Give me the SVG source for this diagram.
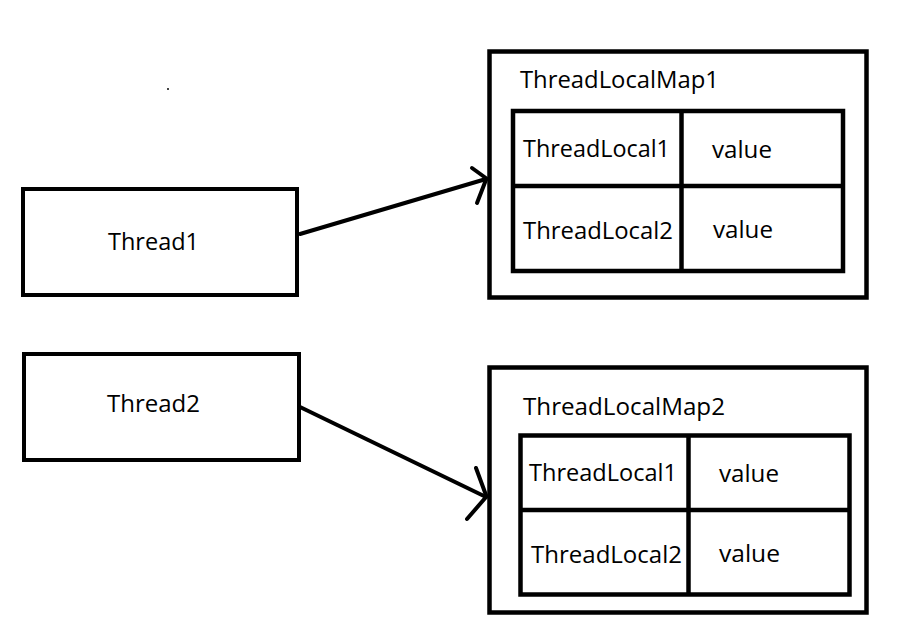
<svg xmlns="http://www.w3.org/2000/svg" width="904" height="640" viewBox="0 0 904 640">
<style>
.box{fill:#fff;stroke:#000;stroke-width:4}
.map{fill:#fff;stroke:#000;stroke-width:4.5}
.grid{fill:none;stroke:#000;stroke-width:4.5}
.t{font-family:"Open Sans","Noto Sans","Liberation Sans",sans-serif;font-size:23px;fill:#000}
.conn{fill:none;stroke:#000;stroke-width:4;stroke-linecap:round;stroke-linejoin:round}
</style>
<rect width="904" height="640" fill="#fff"/>
<rect x="167" y="88" width="2" height="2" fill="#444"/>
<g id="thread1">
<rect class="box" x="23" y="189" width="274" height="106"/>
<text class="t" x="108" y="250" textLength="91" lengthAdjust="spacingAndGlyphs">Thread1</text>
</g>
<g id="thread2">
<rect class="box" x="24" y="354" width="275" height="106"/>
<text class="t" x="107" y="412" textLength="93" lengthAdjust="spacingAndGlyphs">Thread2</text>
</g>
<g id="map1">
<rect class="map" x="489.5" y="51.5" width="377" height="246"/>
<text class="t" x="520" y="88" textLength="199" lengthAdjust="spacingAndGlyphs">ThreadLocalMap1</text>
<rect class="grid" x="513" y="111" width="330" height="160"/>
<line class="grid" x1="681.5" y1="111" x2="681.5" y2="271"/>
<line class="grid" x1="513" y1="186" x2="843" y2="186"/>
<text class="t" x="523" y="157" textLength="147" lengthAdjust="spacingAndGlyphs">ThreadLocal1</text>
<text class="t" x="712" y="158" textLength="60" lengthAdjust="spacingAndGlyphs">value</text>
<text class="t" x="523" y="239" textLength="150" lengthAdjust="spacingAndGlyphs">ThreadLocal2</text>
<text class="t" x="713" y="238" textLength="60" lengthAdjust="spacingAndGlyphs">value</text>
</g>
<g id="map2">
<rect class="map" x="489.5" y="367.5" width="377" height="245"/>
<text class="t" x="523" y="415" textLength="202" lengthAdjust="spacingAndGlyphs">ThreadLocalMap2</text>
<rect class="grid" x="520.5" y="435.5" width="329" height="159"/>
<line class="grid" x1="688.5" y1="435.5" x2="688.5" y2="594.5"/>
<line class="grid" x1="520.5" y1="510" x2="849.5" y2="510"/>
<text class="t" x="529" y="481" textLength="148" lengthAdjust="spacingAndGlyphs">ThreadLocal1</text>
<text class="t" x="719" y="482" textLength="60" lengthAdjust="spacingAndGlyphs">value</text>
<text class="t" x="531" y="563" textLength="151" lengthAdjust="spacingAndGlyphs">ThreadLocal2</text>
<text class="t" x="719" y="562" textLength="61" lengthAdjust="spacingAndGlyphs">value</text>
</g>
<g id="connectors">
<path class="conn" d="M300,234 L486,179"/>
<path class="conn" d="M472,168 L486.5,178.5 L477,203"/>
<path class="conn" d="M300,407 L486,497"/>
<path class="conn" d="M476,468 L486.5,496.5 L467,519"/>
</g>
</svg>
